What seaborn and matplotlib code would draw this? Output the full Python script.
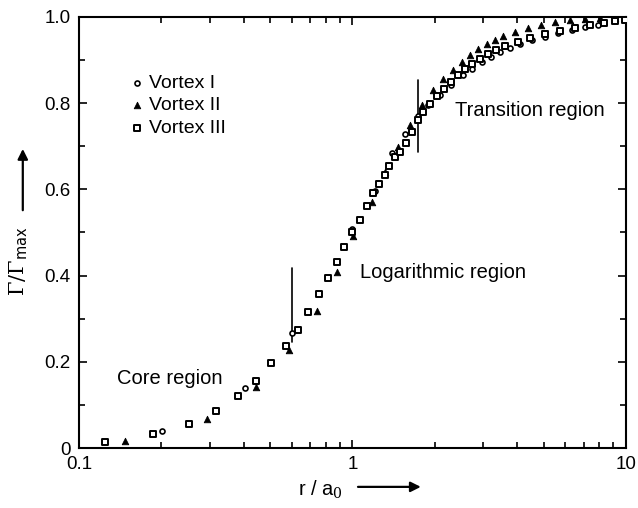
import numpy as np
import pandas as pd
import matplotlib
matplotlib.use("Agg")
import matplotlib.pyplot as plt
import seaborn as sns
from matplotlib.ticker import FixedLocator, FuncFormatter, NullFormatter

# datos (r/a0, Gamma/Gamma_max)
r_v1 = [0.201, 0.405, 0.601, 1.0, 1.21, 1.40, 1.55, 1.74, 1.89, 2.09, 2.30, 2.53, 2.74,
        2.98, 3.21, 3.46, 3.77, 4.10, 4.53, 5.06, 5.64, 6.35, 7.08, 7.90]
g_v1 = [0.039, 0.139, 0.267, 0.508, 0.597, 0.684, 0.728, 0.770, 0.795, 0.818, 0.842, 0.864, 0.880,
        0.895, 0.907, 0.918, 0.928, 0.938, 0.946, 0.954, 0.962, 0.970, 0.976, 0.982]

r_v2 = [0.147, 0.294, 0.444, 0.586, 0.741, 0.877, 1.005, 1.18, 1.315, 1.467, 1.623, 1.795,
        1.969, 2.14, 2.33, 2.51, 2.69, 2.88, 3.10, 3.32, 3.55, 3.93, 4.38, 4.89, 5.50,
        6.24, 7.08, 8.03, 9.12]
g_v2 = [0.016, 0.067, 0.142, 0.227, 0.318, 0.408, 0.492, 0.571, 0.640, 0.698, 0.749, 0.796,
        0.831, 0.856, 0.877, 0.896, 0.912, 0.926, 0.936, 0.947, 0.956, 0.965, 0.974, 0.981, 0.988,
        0.993, 0.995, 0.998, 0.998]

r_v3 = [0.1245, 0.1865, 0.2525, 0.317, 0.381, 0.444, 0.504, 0.571, 0.632, 0.688, 0.754, 0.813,
        0.877, 0.931, 1.0, 1.065, 1.13, 1.19, 1.25, 1.315, 1.36, 1.43, 1.49, 1.57, 1.65, 1.74,
        1.81, 1.92, 2.04, 2.16, 2.29, 2.43, 2.58, 2.74, 2.93, 3.13, 3.35, 3.61, 4.03, 4.46,
        5.06, 5.74, 6.51, 7.39, 8.31, 9.1, 9.91]
g_v3 = [0.014, 0.032, 0.056, 0.086, 0.121, 0.155, 0.197, 0.237, 0.274, 0.316, 0.357, 0.394,
        0.432, 0.466, 0.501, 0.529, 0.561, 0.592, 0.613, 0.633, 0.654, 0.675, 0.687, 0.708, 0.733,
        0.761, 0.780, 0.798, 0.817, 0.833, 0.849, 0.864, 0.878, 0.890, 0.902, 0.914, 0.923, 0.932,
        0.942, 0.951, 0.960, 0.968, 0.975, 0.981, 0.986, 0.990, 0.992]

etiquetas = ["Vortex I", "Vortex II", "Vortex III"]

df = pd.concat([
    pd.DataFrame({"r": r_v1, "G": g_v1, "vortex": etiquetas[0]}),
    pd.DataFrame({"r": r_v2, "G": g_v2, "vortex": etiquetas[1]}),
    pd.DataFrame({"r": r_v3, "G": g_v3, "vortex": etiquetas[2]}),
])

sns.set_style("ticks")
plt.rcParams["font.family"] = ["Liberation Sans", "DejaVu Sans"]
plt.rcParams["mathtext.fontset"] = "dejavuserif"
for k in ["text.color", "axes.labelcolor", "xtick.color", "ytick.color", "axes.edgecolor"]:
    plt.rcParams[k] = "black"

fig = plt.figure(figsize=(6.38, 5.08), dpi=100)
ax = fig.add_axes([0.124, 0.118, 0.857, 0.849])

estilos = {
    "Vortex I": dict(marker="o", s=13, facecolor="white", edgecolor="black", linewidth=1.2),
    "Vortex II": dict(marker="^", s=22, facecolor="black", edgecolor="black", linewidth=0.6),
    "Vortex III": dict(marker="s", s=17, facecolor="white", edgecolor="black", linewidth=1.4),
}
# dibujamos cada vortice
for v in etiquetas:
    sns.scatterplot(data=df[df["vortex"] == v], x="r", y="G", ax=ax, label=v, zorder=3, **estilos[v])

ax.set_xscale("log")
ax.set_xlim(0.1, 10)
ax.set_ylim(0, 1.0)

# lineas que separan las regiones
ax.plot([0.6, 0.6], [0.246, 0.418], color="black", lw=1.2)
ax.plot([1.74, 1.74], [0.687, 0.854], color="black", lw=1.2)

ax.text(0.215, 0.162, "Core region", fontsize=14.5, ha="center", va="center")
ax.text(1.065, 0.408, "Logarithmic region", fontsize=14.5, ha="left", va="center")
ax.text(2.37, 0.782, "Transition region", fontsize=14.5, ha="left", va="center")

# ejes
ax.yaxis.set_major_locator(FixedLocator([0, 0.2, 0.4, 0.6, 0.8, 1.0]))
ax.yaxis.set_minor_locator(FixedLocator([0.1, 0.3, 0.5, 0.7, 0.9]))
ax.yaxis.set_major_formatter(FuncFormatter(lambda v, p: "0" if v == 0 else f"{v:.1f}"))
ax.xaxis.set_major_locator(FixedLocator([0.1, 1, 10]))
ax.xaxis.set_major_formatter(FuncFormatter(lambda v, p: f"{v:g}"))
ax.xaxis.set_minor_formatter(NullFormatter())
ax.tick_params(which="both", direction="in", top=True, right=True, labelsize=13.5, width=1.2)
ax.tick_params(which="major", length=6, pad=6)
ax.tick_params(which="minor", length=4)
for s in ax.spines.values():
    s.set_linewidth(1.5)
ax.set_xlabel("")
ax.set_ylabel("")

ax.text(-0.11, 0.434, r"$\Gamma/\Gamma_{\mathsf{max}}$", transform=ax.transAxes, rotation=90,
        ha="center", va="center", fontsize=15)
ax.annotate("", xy=(-0.103, 0.70), xytext=(-0.103, 0.545), xycoords="axes fraction",
            arrowprops=dict(arrowstyle="-|>", color="black", lw=1.6, mutation_scale=15))
ax.text(0.442, -0.097, r"r / a$_0$", transform=ax.transAxes, ha="center", va="center", fontsize=14.5)
ax.annotate("", xy=(0.63, -0.090), xytext=(0.505, -0.090), xycoords="axes fraction",
            arrowprops=dict(arrowstyle="-|>", color="black", lw=1.6, mutation_scale=15))

ax.legend(loc="upper left", bbox_to_anchor=(0.074, 0.885), frameon=False, fontsize=14,
          handletextpad=0.1, labelspacing=0.25, handlelength=1.0, borderaxespad=0)

fig.savefig("out.png", dpi=100)
